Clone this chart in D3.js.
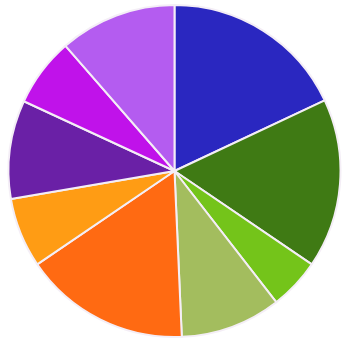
<!DOCTYPE html>
<html>
<head>
<meta charset="utf-8">
<script src="https://cdn.jsdelivr.net/npm/d3@7"></script>
<style>
  html, body { margin: 0; padding: 0; background: #ffffff; }
  svg { display: block; }
</style>
</head>
<body>
<svg id="chart" width="342" height="338"></svg>
<script>
// Slice labels and shares (percent), clockwise from 12 o'clock
const categories = ["A", "B", "C", "D", "E", "F", "G", "H", "I"];
const values = [18.0, 16.5, 5.0, 9.8, 16.2, 6.8, 9.6, 6.7, 11.4];
const colors = ["#2a27c0", "#3f7a14", "#74c41a", "#a3bd5e", "#ff6a12",
                "#ff9c14", "#6a20a6", "#c012ea", "#b45cf0"];

const svg = d3.select("#chart");
const cx = 174.5, cy = 171, radius = 166;

const pie = d3.pie().value(d => d.value).sort(null);
const arc = d3.arc().innerRadius(0).outerRadius(radius);
const color = d3.scaleOrdinal().domain(categories).range(colors);

const data = categories.map((c, i) => ({ name: c, value: values[i] }));

svg.append("g")
  .attr("transform", `translate(${cx},${cy})`)
  .selectAll("path")
  .data(pie(data))
  .join("path")
  .attr("d", arc)
  .attr("fill", d => color(d.data.name))
  .attr("stroke", "#f4eef6")
  .attr("stroke-width", 2)
  .attr("stroke-linejoin", "round");
</script>
</body>
</html>
